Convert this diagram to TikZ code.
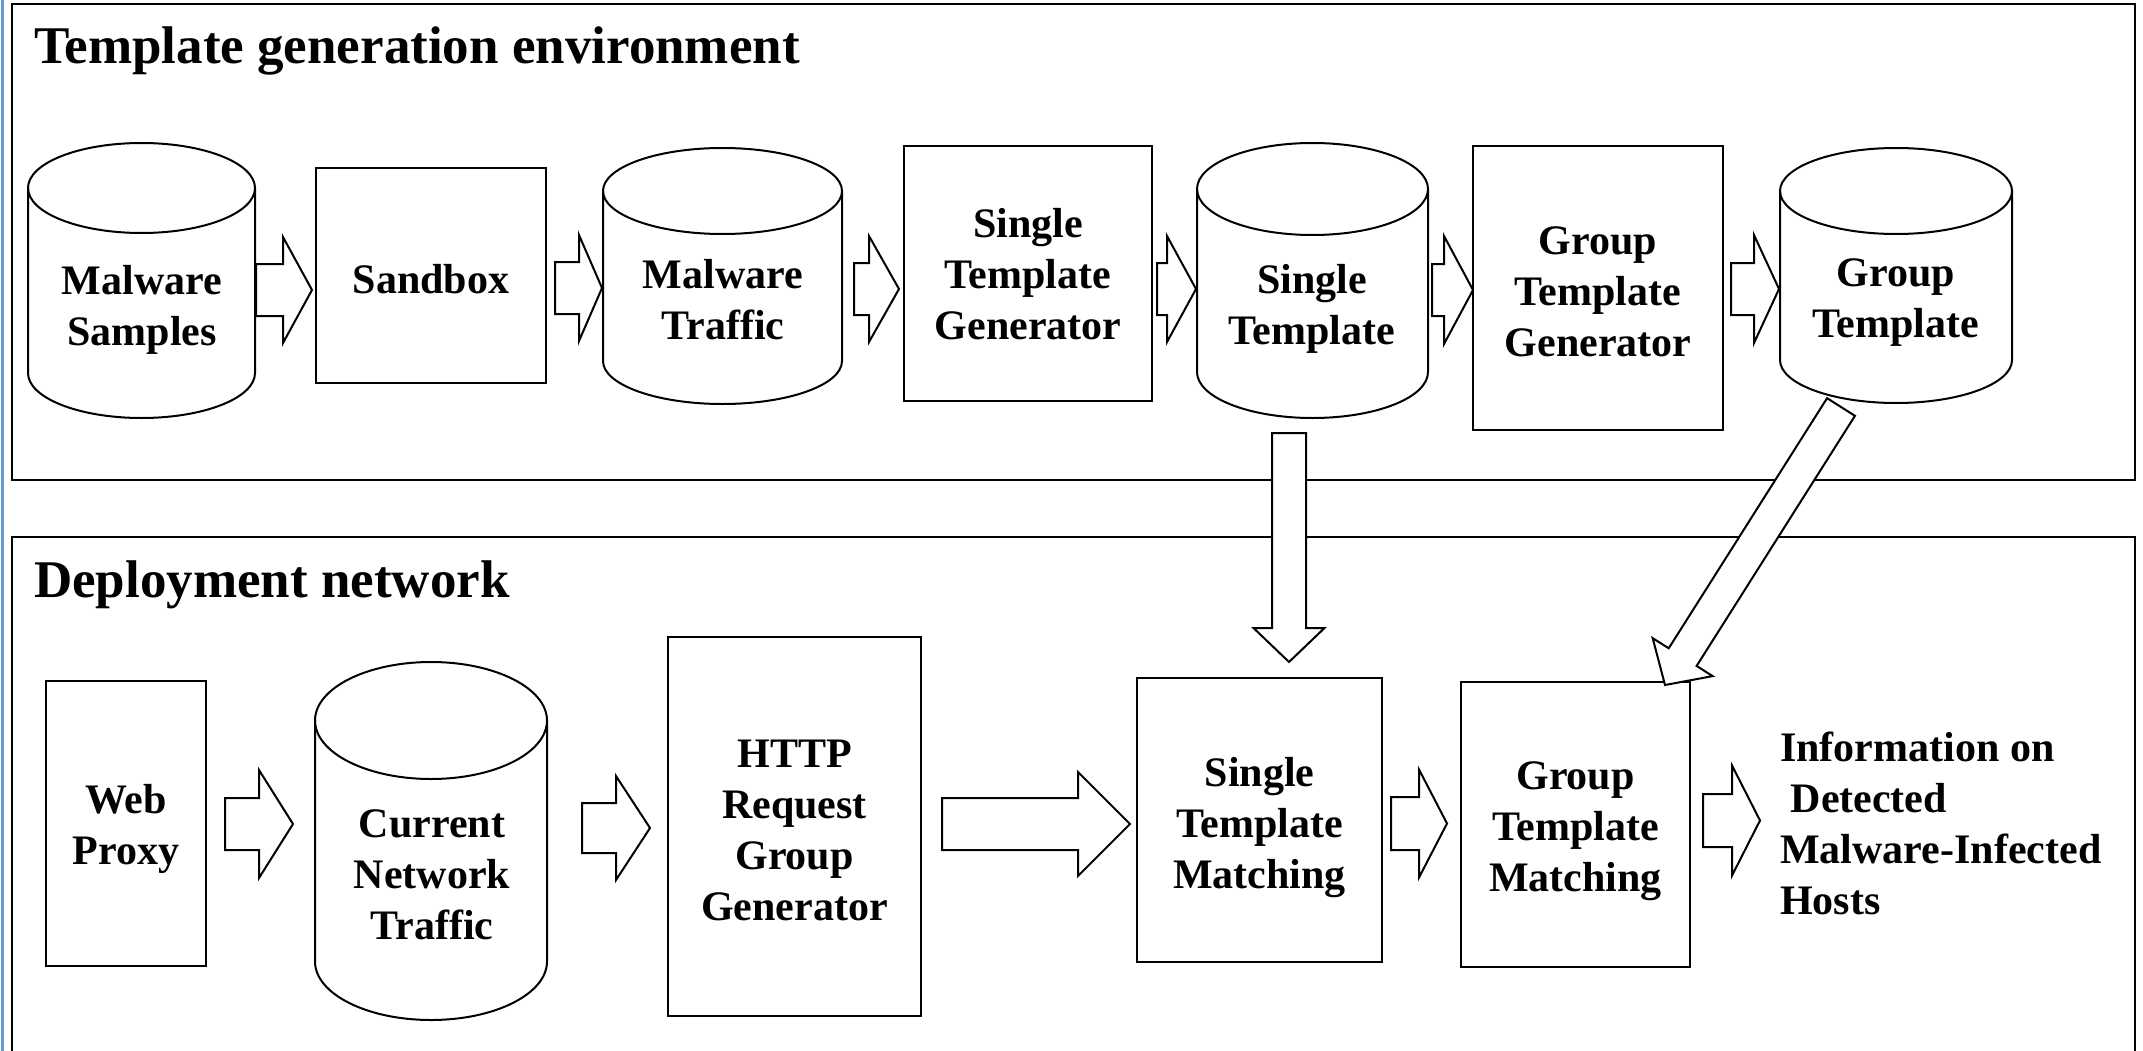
\documentclass[tikz,border=0pt]{standalone}
\usepackage{fontspec}
\setmainfont{Liberation Serif}
\usetikzlibrary{calc}
\definecolor{blueln}{RGB}{100,155,215}
\newcommand\lblfont{\fontsize{42}{51}\selectfont\bfseries}
\newcommand\ttlfont{\fontsize{53}{60}\selectfont\bfseries}
% invisible strut on a first line: lowers the text of a box by (#1-28.5)/2
\newcommand\tstrut[1]{\rule{0pt}{#1pt}}
\tikzset{
  shp/.style={draw=black, line width=2pt, fill=white},
  boxn/.style={shp, rectangle, inner sep=0pt, align=center, font=\lblfont},
  lbl/.style={inner sep=0pt, align=center, font=\lblfont},
  ttl/.style={inner sep=0pt, anchor=base west, font=\ttlfont},
  frm/.style={draw=black, line width=2pt},
  barr/.style={draw=black, line width=2pt, fill=white, line join=miter},
}
% cylinder outline: cx, rx, ytop, ybot, ry  (pixel units, y downwards)
\newcommand\cylpath[5]{%
  \draw[shp] ({#1-#2},{-(#3+#5)}) -- ({#1-#2},{-(#4-#5)})
     arc[start angle=180, end angle=360, x radius=#2, y radius=#5]
     -- ({#1+#2},{-(#3+#5)})
     arc[start angle=0, end angle=180, x radius=#2, y radius=#5] -- cycle;
  \draw[shp, fill=none] ({#1-#2},{-(#3+#5)})
     arc[start angle=180, end angle=360, x radius=#2, y radius=#5];
}
% block arrow: tail, tip, half shaft, half head, head length
\newcommand\blockarrow[5]{%
  \coordinate (hbase) at ($(#2)!#5!(#1)$);
  \draw[barr] ($(#1)!#3!90:(#2)$) -- ($(hbase)!#3!90:(#2)$)
     -- ($(hbase)!#4!90:(#2)$) -- (#2) -- ($(hbase)!#4!-90:(#2)$)
     -- ($(hbase)!#3!-90:(#2)$) -- ($(#1)!#3!-90:(#2)$) -- cycle;
}
\begin{document}
\begin{tikzpicture}[x=1pt, y=1pt]
\useasboundingbox (0,0) rectangle (2143,-1051);
\fill[white] (0,0) rectangle (2143,-1051);
\draw[line width=2.5pt, blueln] (2.5,0) -- (2.5,-1051);

% frames
\node[frm, rectangle, minimum width=2123, minimum height=476, inner sep=0pt] (envtop) at (1073.5,-242) {};
\draw[frm] (12,-1070) -- (12,-537) -- (2135,-537) -- (2135,-1070);
\node[ttl] (ttltop) at (34,-64) {Template generation environment};
\node[ttl] (ttlbot) at (34,-597) {Deployment network};

% top row
\cylpath{141.5}{113.5}{143}{418}{45}
\node[lbl] (c1) at (142,-310) {Malware\\Samples};
\node[boxn, minimum width=230, minimum height=215] (sandbox) at (431,-275.5) {\tstrut{36.5}Sandbox};
\cylpath{722.5}{119.5}{148}{404}{43}
\node[lbl] (c2) at (723,-300) {Malware\\Traffic};
\node[boxn, minimum width=248, minimum height=255] (stg) at (1028,-273.5) {\tstrut{30}Single\\Template\\Generator};
\cylpath{1312.5}{115.5}{143}{418}{46}
\node[lbl] (c3) at (1312,-309) {Single\\Template};
\node[boxn, minimum width=250, minimum height=284] (gtg) at (1598,-288) {\tstrut{35.5}Group\\Template\\Generator};
\cylpath{1896}{116}{148}{403}{43}
\node[lbl] (c4) at (1896,-303) {Group\\Template};

% bottom row
\node[boxn, minimum width=160, minimum height=285] (web) at (126,-823.5) {\tstrut{39.5}Web\\Proxy};
\cylpath{431}{116}{662}{1020}{58.5}
\node[lbl] (c5) at (432,-874.5) {Current\\Network\\Traffic};
\node[boxn, minimum width=253, minimum height=379] (http) at (794.5,-826.5) {\tstrut{35.5}HTTP\\Request\\Group\\Generator};
\node[boxn, minimum width=245, minimum height=284] (stm) at (1259.5,-820) {\tstrut{44.5}Single\\Template\\Matching};
\node[boxn, minimum width=229, minimum height=285] (gtm) at (1575.5,-824.5) {\tstrut{40.5}Group\\Template\\Matching};
\node[inner sep=0pt, align=left, anchor=north west, font=\lblfont] (info) at (1780,-732)
  {Information on\\\hspace*{0.25em}Detected\\Malware-Infected\\Hosts};

% arrow end points
\coordinate (a1s) at (256,-290);  \coordinate (a1e) at (312,-290);
\coordinate (a2s) at (555,-288);  \coordinate (a2e) at (602,-288);
\coordinate (a3s) at (854,-289);  \coordinate (a3e) at (899,-289);
\coordinate (a4s) at (1157,-289); \coordinate (a4e) at (1196,-289);
\coordinate (a5s) at (1432,-290); \coordinate (a5e) at (1473,-290);
\coordinate (a6s) at (1731,-289); \coordinate (a6e) at (1779,-289);
\coordinate (a7s) at (225,-824);  \coordinate (a7e) at (293,-824);
\coordinate (a8s) at (582,-828);  \coordinate (a8e) at (650,-828);
\coordinate (a9s) at (942,-824);  \coordinate (a9e) at (1130,-824);
\coordinate (a10s) at (1391,-823.5); \coordinate (a10e) at (1447,-823.5);
\coordinate (a11s) at (1703,-820.5); \coordinate (a11e) at (1760,-820.5);
\coordinate (a12s) at (1289,-433); \coordinate (a12e) at (1289,-662);
\coordinate (a13s) at (1841,-407); \coordinate (a13e) at (1665,-685);

\blockarrow{a1s}{a1e}{26pt}{53pt}{29pt}
\blockarrow{a2s}{a2e}{26pt}{53pt}{23pt}
\blockarrow{a3s}{a3e}{26pt}{53pt}{30pt}
\blockarrow{a4s}{a4e}{26pt}{53pt}{29pt}
\blockarrow{a5s}{a5e}{26pt}{54pt}{29pt}
\blockarrow{a6s}{a6e}{26pt}{54pt}{25pt}
\blockarrow{a7s}{a7e}{26pt}{54pt}{34pt}
\blockarrow{a8s}{a8e}{25pt}{52pt}{34pt}
\blockarrow{a9s}{a9e}{26pt}{52pt}{52pt}
\blockarrow{a10s}{a10e}{26.5pt}{54pt}{28pt}
\blockarrow{a11s}{a11e}{26.5pt}{55pt}{28pt}
\blockarrow{a12s}{a12e}{17pt}{35.5pt}{34pt}
\blockarrow{a13s}{a13e}{16.5pt}{35.5pt}{33pt}
\end{tikzpicture}
\end{document}
